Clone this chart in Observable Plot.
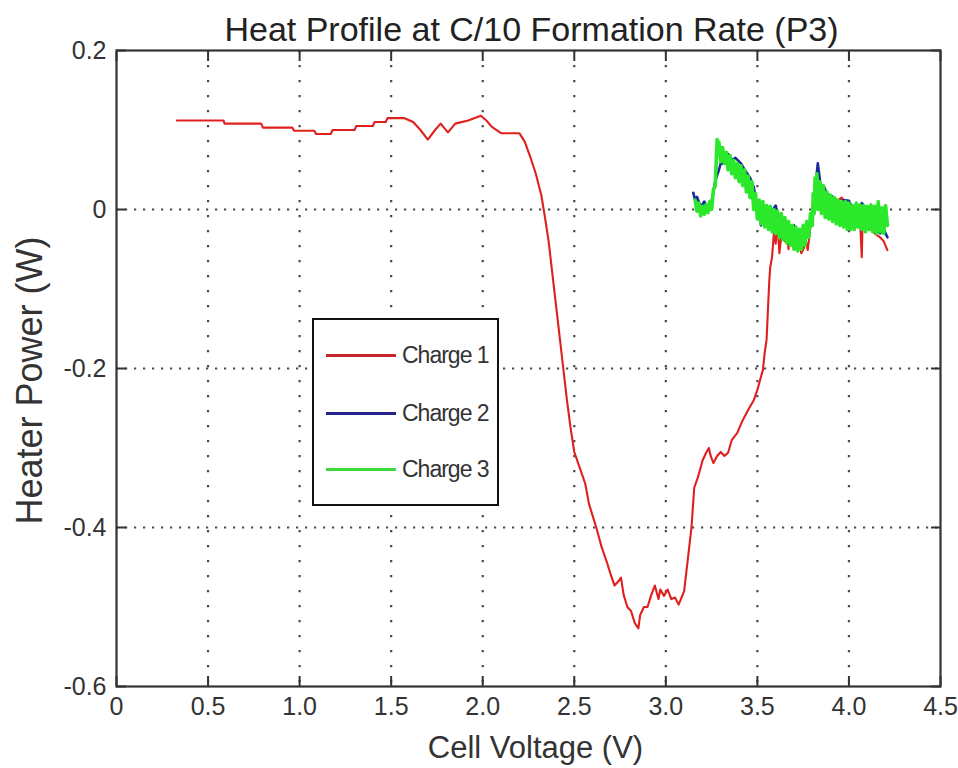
<!DOCTYPE html>
<html>
<head>
<meta charset="utf-8">
<script src="https://cdn.jsdelivr.net/npm/d3@7"></script>
<script src="https://cdn.jsdelivr.net/npm/@observablehq/plot@0.6"></script>
<style>
  html, body { margin: 0; padding: 0; background: #fff; }
  #wrap { position: relative; width: 958px; height: 768px; font-family: "Liberation Sans", Arial, sans-serif; }
  #legend { position: absolute; left: 312px; top: 318px; width: 183px; height: 184px; border: 2px solid #111; background: #fff; }
  .lg-row { position: absolute; left: 0; height: 30px; width: 180px; }
  .lg-line { position: absolute; left: 12px; width: 70px; top: 14px; height: 3px; }
  .lg-text { position: absolute; left: 88px; top: 0; font-size: 23px; line-height: 30px; color: #333; letter-spacing: -1px; }
</style>
</head>
<body>
<div id="wrap"></div>
<script>
// ---- Data ----
const titleText = "Heat Profile at C/10 Formation Rate (P3)";
const xLabel = "Cell Voltage (V)";
const yLabel = "Heater Power (W)";
const seriesNames = ["Charge 1", "Charge 2", "Charge 3"];
const seriesColors = ["#e0201e", "#1a2a9a", "#2be82b"];
const legendColors = ["#c8282d", "#22228a", "#3cd83c"];

const xTicks = [0, 0.5, 1.0, 1.5, 2.0, 2.5, 3.0, 3.5, 4.0, 4.5];
const yTicks = [-0.6, -0.4, -0.2, 0, 0.2];
const xGrid = [0.5, 1.0, 1.5, 2.0, 2.5, 3.0, 3.5, 4.0];
const yGrid = [-0.4, -0.2, 0];

const charge1V = [0.33,0.585,0.59,0.79,0.80,0.96,0.97,1.08,1.09,1.17,1.18,1.30,1.31,1.40,1.41,1.47,1.48,1.57,1.62,1.66,1.70,1.74,1.77,1.81,1.85,1.92,1.99,2.02,2.05,2.10,2.20,2.23,2.26,2.29,2.32,2.34,2.36,2.38,2.40,2.42,2.44,2.46,2.48,2.50,2.53,2.56,2.58,2.60,2.62,2.65,2.68,2.70,2.72,2.74,2.755,2.77,2.79,2.81,2.83,2.85,2.86,2.88,2.90,2.92,2.94,2.96,2.97,2.99,3.01,3.03,3.05,3.07,3.10,3.12,3.14,3.155,3.175,3.20,3.22,3.235,3.245,3.26,3.28,3.30,3.32,3.34,3.36,3.39,3.42,3.45,3.48,3.50,3.52,3.53,3.54,3.55,3.555,3.56,3.565,3.57,3.58,3.59,3.60,3.61,3.615,3.62,3.63,3.64,3.65,3.66,3.67,3.68,3.70,3.71,3.73,3.74,3.755,3.76,3.775,3.79,3.80,3.82,3.86,3.90,3.96,4.00,4.04,4.06,4.07,4.075,4.10,4.14,4.17,4.19,4.21];
const charge1P = [0.112,0.112,0.108,0.108,0.103,0.103,0.099,0.099,0.095,0.095,0.100,0.100,0.105,0.105,0.110,0.110,0.115,0.115,0.110,0.100,0.088,0.100,0.108,0.097,0.108,0.112,0.118,0.112,0.104,0.096,0.096,0.085,0.066,0.045,0.018,-0.010,-0.040,-0.080,-0.120,-0.160,-0.200,-0.240,-0.275,-0.305,-0.325,-0.345,-0.370,-0.385,-0.400,-0.425,-0.445,-0.460,-0.473,-0.468,-0.463,-0.485,-0.500,-0.505,-0.520,-0.527,-0.510,-0.500,-0.500,-0.485,-0.473,-0.490,-0.478,-0.486,-0.478,-0.490,-0.488,-0.497,-0.480,-0.440,-0.400,-0.350,-0.337,-0.316,-0.306,-0.300,-0.310,-0.319,-0.310,-0.305,-0.310,-0.306,-0.290,-0.281,-0.265,-0.252,-0.240,-0.227,-0.210,-0.202,-0.180,-0.164,-0.140,-0.114,-0.090,-0.073,-0.060,-0.030,-0.043,-0.020,-0.035,-0.055,-0.035,-0.020,-0.040,-0.025,-0.050,-0.030,-0.048,-0.030,-0.045,-0.055,-0.048,-0.035,-0.051,-0.022,-0.005,0.020,0.010,0.005,0.015,0.000,-0.010,-0.010,-0.060,-0.010,-0.020,-0.030,-0.035,-0.040,-0.051];

const charge2V = [3.15,3.16,3.17,3.19,3.21,3.235,3.25,3.27,3.29,3.30,3.32,3.34,3.36,3.38,3.41,3.43,3.46,3.48,3.50,3.52,3.53,3.55,3.57,3.60,3.62,3.65,3.67,3.70,3.72,3.75,3.775,3.80,3.82,3.83,3.845,3.865,3.88,3.92,3.95,3.97,4.00,4.03,4.07,4.10,4.14,4.17,4.19,4.21];
const charge2P = [0.021,0.012,0.016,0.003,0.010,0.000,0.010,0.036,0.050,0.058,0.058,0.070,0.062,0.065,0.058,0.050,0.040,0.028,0.003,-0.020,-0.005,0.005,-0.005,0.005,-0.014,-0.020,-0.030,-0.020,-0.043,-0.035,-0.030,-0.005,0.036,0.058,0.030,0.028,0.020,0.015,0.005,0.012,0.011,-0.005,0.008,0.000,-0.020,-0.030,-0.025,-0.035];

const charge3V = [3.16,3.17,3.18,3.19,3.20,3.21,3.22,3.23,3.24,3.25,3.26,3.27,3.275,3.28,3.285,3.29,3.30,3.31,3.32,3.33,3.34,3.35,3.36,3.37,3.38,3.39,3.40,3.41,3.42,3.43,3.44,3.45,3.46,3.47,3.48,3.49,3.50,3.51,3.52,3.53,3.54,3.55,3.56,3.57,3.58,3.59,3.60,3.61,3.62,3.63,3.64,3.65,3.66,3.67,3.68,3.69,3.70,3.71,3.72,3.73,3.74,3.75,3.76,3.77,3.78,3.79,3.80,3.805,3.81,3.815,3.82,3.825,3.83,3.84,3.85,3.86,3.87,3.88,3.89,3.90,3.91,3.92,3.93,3.94,3.95,3.96,3.97,3.98,3.99,4.00,4.01,4.02,4.03,4.04,4.05,4.06,4.07,4.08,4.09,4.10,4.11,4.12,4.13,4.14,4.15,4.16,4.17,4.18,4.19,4.20,4.21];
const charge3P = [0.012,-0.002,0.008,-0.008,0.004,-0.006,0.006,-0.004,0.010,0.000,0.025,0.030,0.060,0.088,0.070,0.085,0.060,0.078,0.058,0.072,0.050,0.068,0.045,0.062,0.040,0.058,0.035,0.055,0.030,0.050,0.022,0.042,0.015,0.035,0.000,0.020,-0.012,0.012,-0.018,0.010,-0.022,0.005,-0.025,0.004,-0.028,0.000,-0.030,-0.002,-0.035,-0.005,-0.038,-0.010,-0.042,-0.015,-0.045,-0.020,-0.050,-0.022,-0.052,-0.025,-0.050,-0.020,-0.045,-0.015,-0.035,-0.005,-0.020,0.020,-0.005,0.040,0.010,0.045,0.000,0.035,-0.005,0.030,-0.010,0.022,-0.012,0.018,-0.015,0.015,-0.018,0.012,-0.020,0.010,-0.022,0.010,-0.025,0.008,-0.025,0.005,-0.025,0.008,-0.022,0.006,-0.025,0.005,-0.028,0.004,-0.025,0.006,-0.028,0.004,-0.030,0.010,-0.028,0.002,-0.030,0.005,-0.020];

// ---- Build tables ----
const rows = (V, P) => V.map((v, i) => ({v, p: P[i]}));
const d1 = rows(charge1V, charge1P);
const d2 = rows(charge2V, charge2P);
const d3 = rows(charge3V, charge3P);

const fmt = d => d === 0 ? "0" : d.toFixed(1);
const blank = () => "";
const gridStroke = "#4a4a4a";
const axisColor = "#333";

const chart = Plot.plot({
  width: 958,
  height: 768,
  marginLeft: 116,
  marginRight: 18,
  marginTop: 50,
  marginBottom: 82,
  style: {fontFamily: "'Liberation Sans', Arial, sans-serif", fontSize: "25px", color: "#333", background: "#fff"},
  x: {domain: [0, 4.5]},
  y: {domain: [-0.6, 0.2]},
  marks: [
    Plot.gridX(xGrid, {stroke: gridStroke, strokeOpacity: 1, strokeWidth: 2.2, strokeDasharray: "2.2,12.8"}),
    Plot.gridY(yGrid, {stroke: gridStroke, strokeOpacity: 1, strokeWidth: 2.2, strokeDasharray: "2.2,6.8"}),
    Plot.line(d1, {x: "v", y: "p", stroke: seriesColors[0], strokeWidth: 2.1}),
    Plot.line(d2, {x: "v", y: "p", stroke: seriesColors[1], strokeWidth: 2.6}),
    Plot.line(d3, {x: "v", y: "p", stroke: seriesColors[2], strokeWidth: 3.6}),
    Plot.frame({stroke: axisColor, strokeWidth: 2.2}),
    Plot.axisX(xTicks, {anchor: "bottom", tickSize: -10, tickPadding: 21, tickFormat: fmt, stroke: axisColor, strokeWidth: 2, label: null, fill: "#333"}),
    Plot.axisX(xTicks, {anchor: "top", tickSize: -10, tickFormat: blank, stroke: axisColor, strokeWidth: 2, label: null}),
    Plot.axisY(yTicks, {anchor: "left", tickSize: -10, tickPadding: 20, tickFormat: fmt, stroke: axisColor, strokeWidth: 2, label: null, fill: "#333"}),
    Plot.axisY(yTicks, {anchor: "right", tickSize: -10, tickFormat: blank, stroke: axisColor, strokeWidth: 2, label: null}),
    Plot.text([titleText], {frameAnchor: "top", dy: -20, dx: 3, fontSize: 34, fill: "#222", lineAnchor: "middle", textAnchor: "middle"}),
    Plot.text([xLabel], {frameAnchor: "bottom", dy: 62, dx: 7, fontSize: 31, fill: "#333", lineAnchor: "middle", textAnchor: "middle"}),
    Plot.text([yLabel], {frameAnchor: "left", dx: -86, dy: 12, rotate: -90, fontSize: 36, fill: "#333", lineAnchor: "middle", textAnchor: "middle"})
  ]
});

const wrap = document.getElementById("wrap");
wrap.appendChild(chart);

// ---- Legend ----
const legend = document.createElement("div");
legend.id = "legend";
const legendTops = [20, 78, 134];
seriesNames.forEach((name, i) => {
  const row = document.createElement("div");
  row.className = "lg-row";
  row.style.top = legendTops[i] + "px";
  const ln = document.createElement("div");
  ln.className = "lg-line";
  ln.style.background = legendColors[i];
  const tx = document.createElement("div");
  tx.className = "lg-text";
  tx.textContent = name;
  row.appendChild(ln);
  row.appendChild(tx);
  legend.appendChild(row);
});
wrap.appendChild(legend);
</script>
</body>
</html>
